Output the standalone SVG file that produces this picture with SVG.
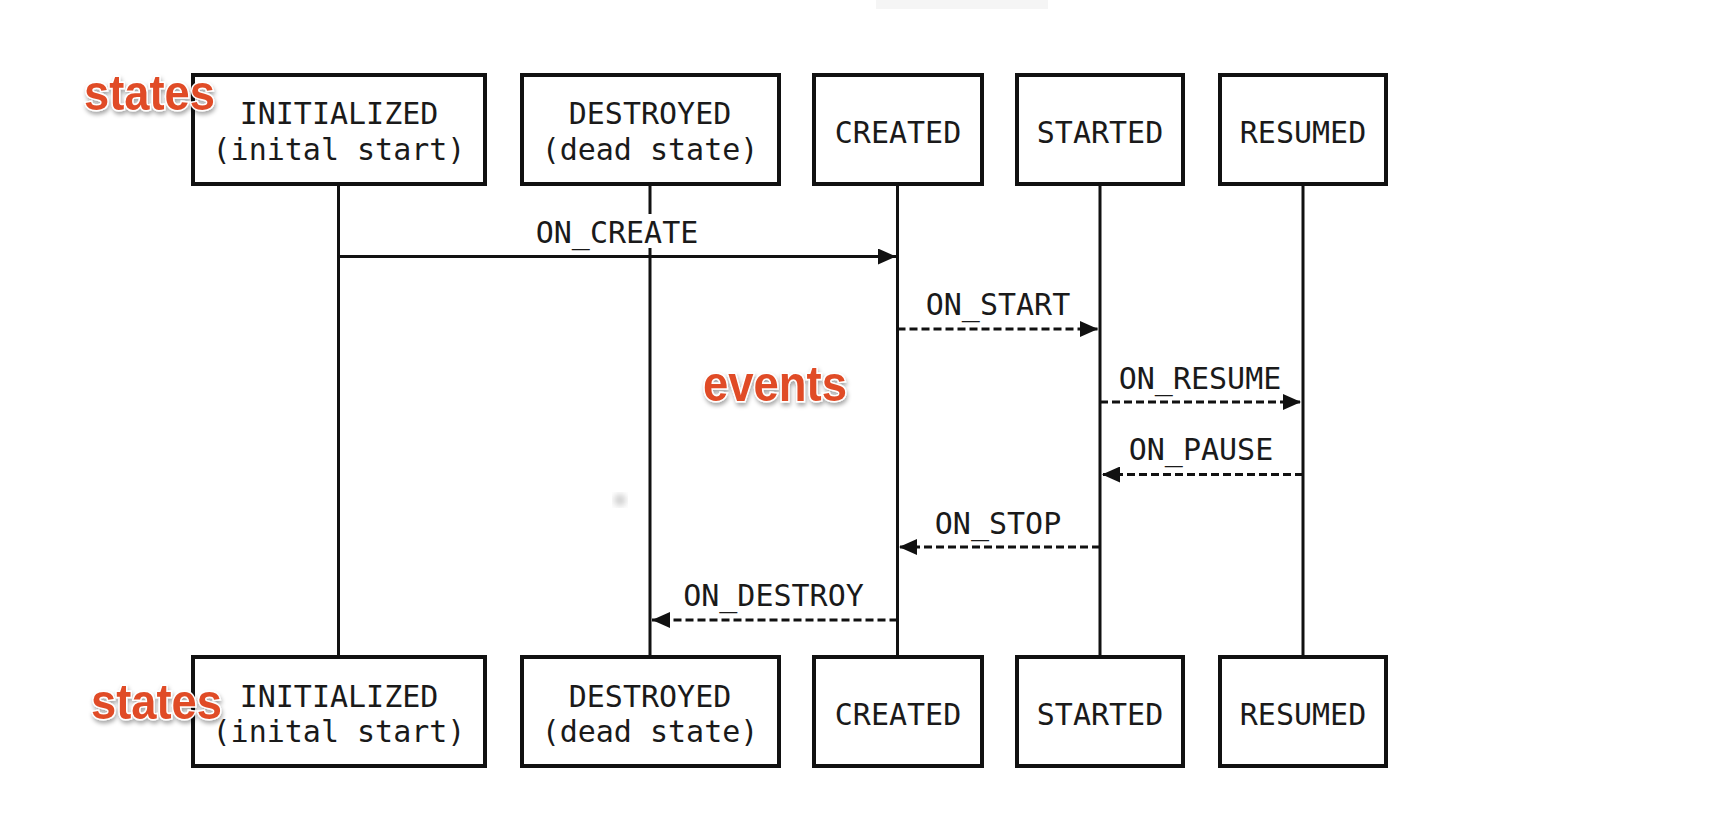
<svg xmlns="http://www.w3.org/2000/svg" width="1718" height="838" viewBox="0 0 1718 838">
<defs>
<style>
.box{fill:#fff;stroke:#111;stroke-width:4}
.life{stroke:#111;stroke-width:3}
.t{font-family:"DejaVu Sans Mono","Liberation Mono",monospace;font-size:30px;fill:#1a1a1a;text-anchor:middle}
.msg{stroke:#111;stroke-width:3;fill:none}
.dash{stroke-dasharray:8 4}
.ann{font-family:"Liberation Sans",Arial,sans-serif;font-weight:bold;font-size:50px;fill:#e04b26;stroke:#fff;stroke-width:3;paint-order:stroke;filter:url(#sh)}
.lbg{fill:#fff}
</style>
<marker id="ah" viewBox="0 0 18 16" refX="18" refY="8" markerWidth="18" markerHeight="16" markerUnits="userSpaceOnUse" orient="auto">
<path d="M0,0 L18,8 L0,16 z" fill="#111"/>
</marker>
<filter id="sh" x="-20%" y="-30%" width="140%" height="170%">
<feDropShadow dx="1" dy="3" stdDeviation="2" flood-color="#000" flood-opacity="0.35"/>
</filter>
<filter id="blur"><feGaussianBlur stdDeviation="3"/></filter>
</defs>
<rect width="1718" height="838" fill="#fff"/>
<rect x="876" y="0" width="172" height="9" fill="#f5f5f5"/>
<circle cx="620" cy="500" r="6" fill="#cfcfcf" filter="url(#blur)"/>

<g id="lifelines">
<line class="life" x1="338.5" y1="184" x2="338.5" y2="657"/>
<line class="life" x1="650" y1="184" x2="650" y2="657"/>
<line class="life" x1="897.5" y1="184" x2="897.5" y2="657"/>
<line class="life" x1="1100" y1="184" x2="1100" y2="657"/>
<line class="life" x1="1303" y1="184" x2="1303" y2="657"/>
</g>

<g id="connectors">
<rect class="lbg" x="535" y="214" width="165" height="34"/>
<line class="msg" x1="338.5" y1="256.5" x2="896" y2="256.5" marker-end="url(#ah)"/>
<line class="msg dash" x1="897.5" y1="329" x2="1098" y2="329" marker-end="url(#ah)"/>
<line class="msg dash" x1="1100" y1="402" x2="1301" y2="402" marker-end="url(#ah)"/>
<line class="msg dash" x1="1303" y1="474.5" x2="1102" y2="474.5" marker-end="url(#ah)"/>
<line class="msg dash" x1="1100" y1="547" x2="899" y2="547" marker-end="url(#ah)"/>
<line class="msg dash" x1="897.5" y1="620" x2="652" y2="620" marker-end="url(#ah)"/>
<text class="t" x="617" y="243">ON_CREATE</text>
<text class="t" x="998" y="315">ON_START</text>
<text class="t" x="1200" y="389">ON_RESUME</text>
<text class="t" x="1201" y="460">ON_PAUSE</text>
<text class="t" x="998" y="534">ON_STOP</text>
<text class="t" x="773.5" y="606">ON_DESTROY</text>
</g>

<g id="initialized-top"><rect class="box" x="193" y="75" width="292" height="109"/><text class="t" x="339" y="124">INITIALIZED</text><text class="t" x="339" y="160">(inital start)</text></g>
<g id="destroyed-top"><rect class="box" x="522" y="75" width="257" height="109"/><text class="t" x="650" y="124">DESTROYED</text><text class="t" x="650" y="160">(dead state)</text></g>
<g id="created-top"><rect class="box" x="814" y="75" width="168" height="109"/><text class="t" x="898" y="143">CREATED</text></g>
<g id="started-top"><rect class="box" x="1017" y="75" width="166" height="109"/><text class="t" x="1100" y="143">STARTED</text></g>
<g id="resumed-top"><rect class="box" x="1220" y="75" width="166" height="109"/><text class="t" x="1303" y="143">RESUMED</text></g>

<g id="initialized-bottom"><rect class="box" x="193" y="657" width="292" height="109"/><text class="t" x="339" y="707">INITIALIZED</text><text class="t" x="339" y="742">(inital start)</text></g>
<g id="destroyed-bottom"><rect class="box" x="522" y="657" width="257" height="109"/><text class="t" x="650" y="707">DESTROYED</text><text class="t" x="650" y="742">(dead state)</text></g>
<g id="created-bottom"><rect class="box" x="814" y="657" width="168" height="109"/><text class="t" x="898" y="725">CREATED</text></g>
<g id="started-bottom"><rect class="box" x="1017" y="657" width="166" height="109"/><text class="t" x="1100" y="725">STARTED</text></g>
<g id="resumed-bottom"><rect class="box" x="1220" y="657" width="166" height="109"/><text class="t" x="1303" y="725">RESUMED</text></g>

<g id="annotations">
<text class="ann" x="84" y="110" textLength="131" lengthAdjust="spacingAndGlyphs">states</text>
<text class="ann" x="91" y="719" textLength="131" lengthAdjust="spacingAndGlyphs">states</text>
<text class="ann" x="703" y="401" textLength="144" lengthAdjust="spacingAndGlyphs">events</text>
</g>
</svg>
